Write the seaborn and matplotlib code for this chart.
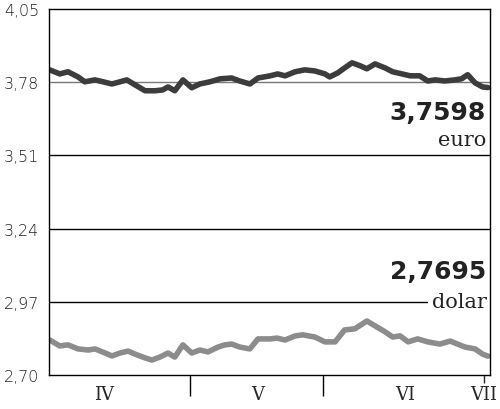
import numpy as np
import pandas as pd
import matplotlib
matplotlib.use("Agg")
import matplotlib.pyplot as plt
import seaborn as sns

# kurs euro (dni handlowe od 1 IV)
euro_dzien = [0.1, 1.6, 2.8, 4.3, 5.3, 6.8, 8.0, 9.3, 10.5, 11.5, 12.7, 14.2, 15.7, 16.8,
              17.6, 18.6, 19.8, 21.1, 22.3, 23.8, 25.3, 27.0, 28.2, 29.7, 30.9, 32.7, 33.8,
              34.9, 36.4, 37.8, 39.3, 40.8, 41.5, 42.7, 43.7, 44.8, 46.0, 47.0, 48.2, 49.7,
              50.8, 52.2, 53.4, 54.8, 56.0, 57.1, 58.5, 60.0, 61.0, 61.9, 63.0, 64.1, 64.9]
euro_kurs = [3.825, 3.810, 3.818, 3.799, 3.781, 3.788, 3.781, 3.773, 3.781, 3.788, 3.770,
             3.748, 3.748, 3.751, 3.762, 3.748, 3.788, 3.759, 3.773, 3.781, 3.792, 3.795,
             3.784, 3.773, 3.795, 3.803, 3.810, 3.803, 3.818, 3.825, 3.821, 3.810, 3.799,
             3.814, 3.832, 3.851, 3.840, 3.829, 3.847, 3.832, 3.818, 3.810, 3.803, 3.803,
             3.784, 3.788, 3.784, 3.788, 3.792, 3.807, 3.777, 3.762, 3.7598]

# kurs dolara
dolar_dzien = [0.1, 1.6, 2.8, 4.3, 5.8, 6.8, 8.3, 9.3, 10.5, 11.7, 12.7, 14.2, 15.2, 16.4,
               17.6, 18.6, 19.8, 21.1, 22.3, 23.5, 25.0, 26.0, 27.0, 28.2, 29.7, 30.9, 32.7,
               33.7, 34.9, 36.4, 37.5, 39.3, 40.8, 42.3, 43.7, 45.2, 47.0, 48.2, 49.7, 50.8,
               51.9, 53.1, 54.5, 56.0, 57.8, 59.3, 60.4, 61.5, 63.0, 64.1, 64.9]
dolar_kurs = [2.829, 2.807, 2.811, 2.796, 2.792, 2.796, 2.781, 2.770, 2.781, 2.788, 2.777,
              2.763, 2.755, 2.766, 2.781, 2.766, 2.811, 2.781, 2.792, 2.785, 2.803, 2.811,
              2.814, 2.803, 2.796, 2.833, 2.833, 2.836, 2.829, 2.844, 2.848, 2.840, 2.822,
              2.822, 2.866, 2.870, 2.899, 2.881, 2.859, 2.840, 2.844, 2.822, 2.833, 2.822,
              2.814, 2.825, 2.814, 2.803, 2.796, 2.777, 2.7695]

y_ticks = [2.70, 2.97, 3.24, 3.51, 3.78, 4.05]
granice = [20.8, 40.5]
miesiace = ["IV", "V", "VI", "VII"]
miesiace_x = [8.1, 30.9, 52.6, 64.3]

euro = pd.DataFrame({"dzien": euro_dzien, "kurs": euro_kurs})
dolar = pd.DataFrame({"dzien": dolar_dzien, "kurs": dolar_kurs})

sns.set_style("white")
fig = plt.figure(figsize=(5, 4.1), dpi=100)
ax = fig.add_axes([0.098, 0.083, 0.882, 0.893])

for y in y_ticks[1:-1]:
    col = "#777777" if y == 3.78 else "black"
    ax.axhline(y, color=col, lw=1.0, zorder=1)

sns.lineplot(data=euro, x="dzien", y="kurs", ax=ax, color="#3c3c3c", lw=4,
             solid_capstyle="round", solid_joinstyle="round", zorder=3)
sns.lineplot(data=dolar, x="dzien", y="kurs", ax=ax, color="#8c8c8c", lw=4,
             solid_capstyle="round", solid_joinstyle="round", zorder=3)

ax.set_xlim(0, 65.2)
ax.set_ylim(2.70, 4.05)
ax.set_xlabel("")
ax.set_ylabel("")

ax.set_yticks(y_ticks)
ax.set_yticklabels([f"{v:.2f}".replace(".", ",") for v in y_ticks],
                   fontsize=11.5, family="DejaVu Sans", fontweight="light")
ax.tick_params(axis="y", length=0, pad=7, colors="#222222")

# granice miesiecy jako dlugie kreski, nazwy miesiecy pomiedzy nimi
ax.set_xticks(granice)
ax.set_xticklabels([])
ax.tick_params(axis="x", which="major", bottom=True, direction="out", length=15,
               width=1, color="black")
ax.set_xticks(miesiace_x, minor=True)
ax.set_xticklabels(miesiace, minor=True, fontsize=13, family="DejaVu Serif")
ax.tick_params(axis="x", which="minor", bottom=True, length=0, pad=7)
ax.xaxis.get_minor_ticks()[3].tick1line.set_markersize(6)
ax.xaxis.get_minor_ticks()[3].tick1line.set_markeredgewidth(1)

for s in ax.spines.values():
    s.set_color("black")
    s.set_linewidth(1.0)
    s.set_zorder(5)

ax.text(64.6, 3.67, "3,7598", ha="right", va="center", fontsize=18,
        fontweight="bold", color="#222222", family="DejaVu Sans")
ax.text(64.6, 3.57, "euro", ha="right", va="center", fontsize=15,
        color="#222222", family="DejaVu Serif",
        bbox=dict(facecolor="white", edgecolor="none", pad=1))
ax.text(64.6, 3.083, "2,7695", ha="right", va="center", fontsize=18,
        fontweight="bold", color="#222222", family="DejaVu Sans")
ax.text(64.8, 2.97, "dolar", ha="right", va="center", fontsize=15,
        color="#222222", family="DejaVu Serif", zorder=4,
        bbox=dict(facecolor="white", edgecolor="none", pad=3))

fig.savefig("out.png", dpi=100)
